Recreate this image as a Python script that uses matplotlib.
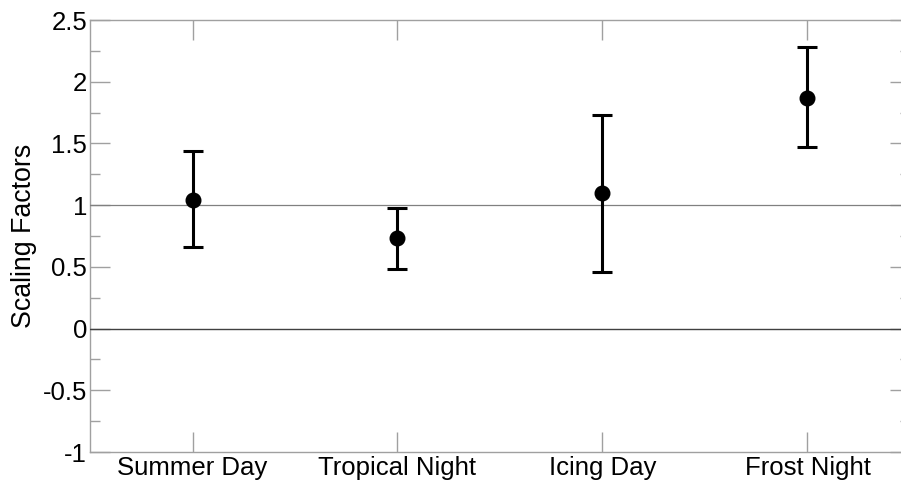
import numpy as np
import matplotlib
matplotlib.use('Agg')
import matplotlib.pyplot as plt
from matplotlib.ticker import MultipleLocator, FuncFormatter

plt.rcParams['font.family'] = ['Liberation Sans', 'DejaVu Sans']

# data
categories = ['Summer Day', 'Tropical Night', 'Icing Day', 'Frost Night']
best = [1.04, 0.73, 1.095, 1.87]
upper = [1.435, 0.98, 1.73, 2.28]
lower = [0.66, 0.48, 0.46, 1.47]

x = np.arange(1, len(categories) + 1)
best = np.array(best)
err = [best - np.array(lower), np.array(upper) - best]

fig = plt.figure(figsize=(9.01, 4.86), dpi=100)
# right edge of the axes sits just outside the picture, as in the reference
ax = fig.add_axes([90 / 901, 34 / 486, 820 / 901, 432 / 486])

ax.axhline(0, color='#404040', lw=1.0, zorder=3)
ax.axhline(1, color='#808080', lw=0.9, zorder=3)

ax.errorbar(x, best, yerr=err, fmt='o', color='black', ms=10.5,
            elinewidth=2.2, capsize=7.2, capthick=2.2, zorder=4)

ax.set_xlim(0.5, 4.5)
ax.set_ylim(-1, 2.5)
ax.set_xticks(x)
ax.set_xticklabels(categories)
ax.yaxis.set_major_locator(MultipleLocator(0.5))
ax.yaxis.set_minor_locator(MultipleLocator(0.25))
ax.yaxis.set_major_formatter(FuncFormatter(lambda v, p: f'{v:g}'))

for s in ax.spines.values():
    s.set_color('#a0a0a0')
    s.set_linewidth(1.0)
ax.spines['right'].set_visible(False)

ax.tick_params(axis='both', which='both', direction='in', colors='#a0a0a0',
               labelcolor='black', labelsize=18.5, top=True, right=True)
ax.tick_params(axis='x', which='major', length=14.4, width=1.0, pad=3)
ax.tick_params(axis='y', which='major', length=14.4, width=1.0, pad=2)
ax.tick_params(axis='y', which='minor', length=7.2, width=1.0)
ax.tick_params(axis='x', which='minor', length=0)

ax.set_ylabel('Scaling Factors', fontsize=19.3, labelpad=4)

fig.savefig('out.png', dpi=100)
